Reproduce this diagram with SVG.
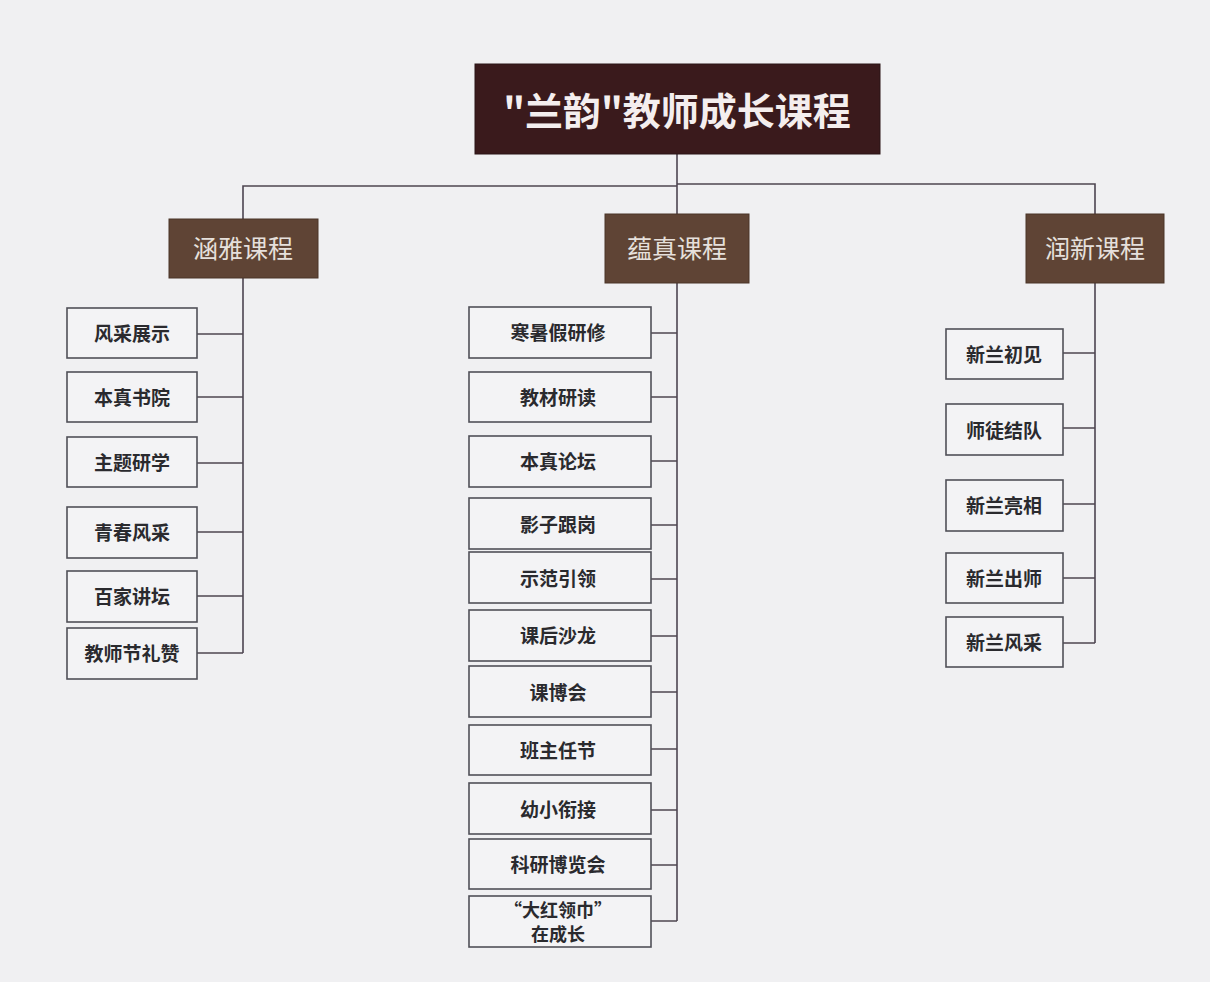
<svg xmlns="http://www.w3.org/2000/svg" width="1210" height="982" viewBox="0 0 1210 982">
<style>
.bg{fill:#f0f0f2}
.title{fill:#3a1a1c;stroke:#2a1416;stroke-width:1}
.title-t{font-family:"Noto Sans CJK SC","Liberation Sans",sans-serif;font-weight:700;font-size:38px;fill:#f4eeee;text-anchor:middle;dominant-baseline:central}
.cat{fill:#5f4435;stroke:#4a3428;stroke-width:1}
.cat-t{font-family:"Noto Sans CJK SC","Liberation Sans",sans-serif;font-weight:400;font-size:25px;fill:#e6e0dc;text-anchor:middle;dominant-baseline:central}
.leaf{fill:#f3f3f5;stroke:#505058;stroke-width:1.6}
.leaf-t{font-family:"Noto Sans CJK SC","Liberation Sans",sans-serif;font-weight:700;font-size:19px;fill:#2a2a2e;text-anchor:middle;dominant-baseline:central}
.leaf-s{font-size:18px}
.conn{fill:none;stroke:#4d4550;stroke-width:1.6}
</style>
<rect class="bg" x="0" y="0" width="1210" height="982"/>
<g id="connectors">
<path class="conn" d="M677,154 V921"/>
<path class="conn" d="M677,186 H243 V653"/>
<path class="conn" d="M677,184 H1095 V643"/>
<path class="conn" d="M197,334 H243 M197,397 H243 M197,463 H243 M197,532 H243 M197,596 H243 M197,653 H243"/>
<path class="conn" d="M651,333 H677 M651,397 H677 M651,461 H677 M651,525 H677 M651,579 H677 M651,636 H677 M651,692 H677 M651,749 H677 M651,810 H677 M651,865 H677 M651,921 H677"/>
<path class="conn" d="M1063,353 H1095 M1063,428 H1095 M1063,504 H1095 M1063,578 H1095 M1063,643 H1095"/>
</g>
<g id="root"><rect class="title" x="475" y="64" width="405" height="90"/><text class="title-t" x="677" y="108">"兰韵"教师成长课程</text></g>
<g id="cat-hanya"><rect class="cat" x="169" y="219" width="149" height="59"/><text class="cat-t" x="243" y="247">涵雅课程</text></g>
<g id="cat-yunzhen"><rect class="cat" x="605" y="214" width="144" height="69"/><text class="cat-t" x="677" y="247">蕴真课程</text></g>
<g id="cat-runxin"><rect class="cat" x="1026" y="214" width="138" height="69"/><text class="cat-t" x="1095" y="247">润新课程</text></g>

<g id="l1"><rect class="leaf" x="67" y="308" width="130" height="50"/><text class="leaf-t" x="132" y="332">风采展示</text></g>
<g id="l2"><rect class="leaf" x="67" y="372" width="130" height="50"/><text class="leaf-t" x="132" y="396">本真书院</text></g>
<g id="l3"><rect class="leaf" x="67" y="437" width="130" height="50"/><text class="leaf-t" x="132" y="461">主题研学</text></g>
<g id="l4"><rect class="leaf" x="67" y="507" width="130" height="51"/><text class="leaf-t" x="132" y="531">青春风采</text></g>
<g id="l5"><rect class="leaf" x="67" y="571" width="130" height="51"/><text class="leaf-t" x="132" y="595">百家讲坛</text></g>
<g id="l6"><rect class="leaf" x="67" y="628" width="130" height="51"/><text class="leaf-t" x="132" y="652">教师节礼赞</text></g>

<g id="m1"><rect class="leaf" x="469" y="307" width="182" height="51"/><text class="leaf-t" x="558" y="331">寒暑假研修</text></g>
<g id="m2"><rect class="leaf" x="469" y="372" width="182" height="50"/><text class="leaf-t" x="558" y="396">教材研读</text></g>
<g id="m3"><rect class="leaf" x="469" y="436" width="182" height="51"/><text class="leaf-t" x="558" y="460">本真论坛</text></g>
<g id="m4"><rect class="leaf" x="469" y="498" width="182" height="51"/><text class="leaf-t" x="558" y="523">影子跟岗</text></g>
<g id="m5"><rect class="leaf" x="469" y="552" width="182" height="51"/><text class="leaf-t" x="558" y="577">示范引领</text></g>
<g id="m6"><rect class="leaf" x="469" y="610" width="182" height="51"/><text class="leaf-t" x="558" y="634">课后沙龙</text></g>
<g id="m7"><rect class="leaf" x="469" y="666" width="182" height="51"/><text class="leaf-t" x="558" y="691">课博会</text></g>
<g id="m8"><rect class="leaf" x="469" y="725" width="182" height="50"/><text class="leaf-t" x="558" y="749">班主任节</text></g>
<g id="m9"><rect class="leaf" x="469" y="783" width="182" height="51"/><text class="leaf-t" x="558" y="808">幼小衔接</text></g>
<g id="m10"><rect class="leaf" x="469" y="839" width="182" height="50"/><text class="leaf-t" x="558" y="863">科研博览会</text></g>
<g id="m11"><rect class="leaf" x="469" y="896" width="182" height="51"/><text class="leaf-t leaf-s" x="558" y="909">“大红领巾”</text><text class="leaf-t leaf-s" x="558" y="933">在成长</text></g>

<g id="r1"><rect class="leaf" x="946" y="329" width="117" height="50"/><text class="leaf-t" x="1004" y="353">新兰初见</text></g>
<g id="r2"><rect class="leaf" x="946" y="404" width="117" height="51"/><text class="leaf-t" x="1004" y="429">师徒结队</text></g>
<g id="r3"><rect class="leaf" x="946" y="480" width="117" height="51"/><text class="leaf-t" x="1004" y="504">新兰亮相</text></g>
<g id="r4"><rect class="leaf" x="946" y="553" width="117" height="50"/><text class="leaf-t" x="1004" y="577">新兰出师</text></g>
<g id="r5"><rect class="leaf" x="946" y="617" width="117" height="50"/><text class="leaf-t" x="1004" y="641">新兰风采</text></g>
</svg>
